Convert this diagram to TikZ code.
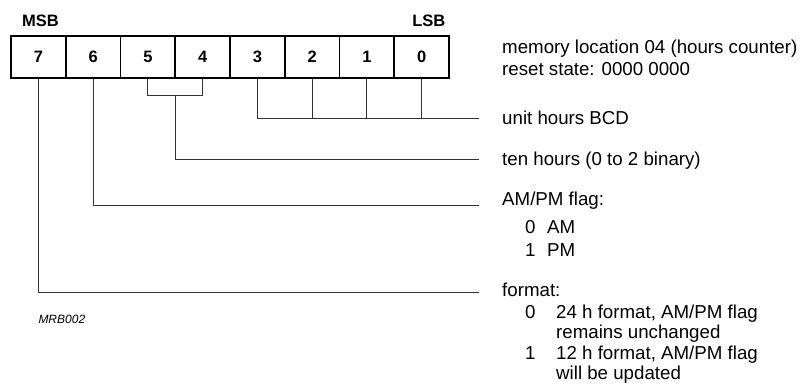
\documentclass[tikz,border=0pt]{standalone}
\usepackage{fontspec}
\setmainfont{Liberation Sans}
\usetikzlibrary{calc}
\begin{document}
\begin{tikzpicture}[x=1pt,y=-1pt,
  cell/.style={draw,line width=1.8pt,minimum width=54.75pt,minimum height=42pt,inner sep=0pt,font=\fontsize{16.5}{18}\selectfont\bfseries},
  conn/.style={line width=1pt,draw=black!80},
  lbl/.style={anchor=base west,inner sep=0pt,font=\fontsize{18.7}{20}\selectfont},
  hdr/.style={inner sep=0pt,font=\fontsize{16.5}{18}\selectfont\bfseries}]
\useasboundingbox (0,0) rectangle (805,391);
\foreach \b [count=\i from 0] in {7,6,5,4,3,2,1,0}{
  \node[cell] (c\b) at ({11+54.75*(\i+0.5)},57) {\b};
}
\node[hdr,anchor=base west] (msb) at (22,26.7) {MSB};
\node[hdr,anchor=base east] (lsb) at (445.5,26.7) {LSB};
% labels
\node[lbl] (mem) at (502,53) {memory location 04 (hours counter)};
\node[lbl] (rst) at (502,75.5) {reset state: 0000 0000};
\node[lbl] (unit) at (502,124.5) {unit hours BCD};
\node[lbl] (ten) at (502,165.5) {ten hours (0 to 2 binary)};
\node[lbl] (ampm) at (502,205.5) {AM/PM flag:};
\node[lbl] (am) at (525,233.5) {0};
\node[lbl] (amt) at (547,233.5) {AM};
\node[lbl] (pm) at (525,256) {1};
\node[lbl] (pmt) at (547,256) {PM};
\node[lbl] (fmt) at (502,296.5) {format:};
\node[lbl] (f0n) at (525,318) {0};
\node[lbl] (f0a) at (556,318) {24 h format, AM/PM flag};
\node[lbl] (f0b) at (556,338.5) {remains unchanged};
\node[lbl] (f1n) at (525,359) {1};
\node[lbl] (f1a) at (556,359) {12 h format, AM/PM flag};
\node[lbl] (f1b) at (556,379.5) {will be updated};
\node[anchor=base west,inner sep=0pt,font=\fontsize{12}{13}\selectfont\itshape] (mrb) at (38.3,323.5) {MRB002};
% connector end points
\coordinate (e3) at (479,118);
\coordinate (e54) at (479,159);
\coordinate (e6) at (479,205);
\coordinate (e7) at (479,292.5);
% bits 3..0
\draw[conn] (c3.south) |- (e3);
\draw[conn] (c2.south) -- (c2.south |- e3);
\draw[conn] (c1.south) -- (c1.south |- e3);
\draw[conn] (c0.south) -- (c0.south |- e3);
% bits 5,4
\coordinate (b54) at ($(c5.south)!0.5!(c4.south)+(0,17)$);
\draw[conn] (c5.south) -- (c5.south |- b54) -| (c4.south);
\draw[conn] (b54) |- (e54);
% bit 6, 7
\draw[conn] (c6.south) |- (e6);
\draw[conn] (c7.south) |- (e7);
\end{tikzpicture}
\end{document}
